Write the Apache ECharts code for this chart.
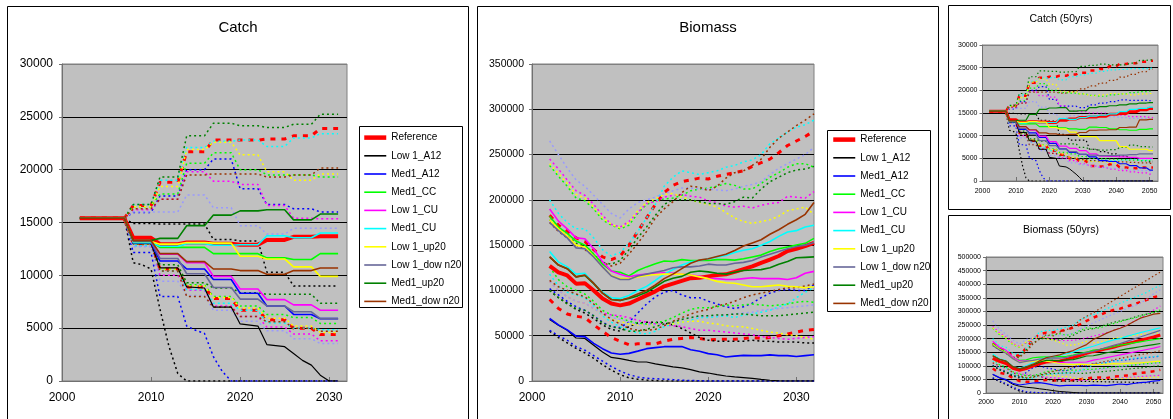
<!DOCTYPE html>
<html>
<head>
<meta charset="utf-8">
<script src="https://cdn.jsdelivr.net/npm/echarts@6/dist/echarts.min.js"></script>
<style>
  html, body { margin: 0; padding: 0; background: #fff; }
  #chart { width: 1173px; height: 419px; }
</style>
</head>
<body>
<div id="chart"></div>
<script>
// Scenario names (legend order) -------------------------------------------
const SCEN = ['Reference', 'Low 1_A12', 'Med1_A12', 'Med1_CC', 'Low 1_CU', 'Med1_CU',
              'Low 1_up20', 'Low 1_dow n20', 'Med1_up20', 'Med1_dow n20'];

// Catch: TAC blocks (value held from block start year to the year before the next block)
const catchStarts = [2002, 2008, 2011, 2014, 2017, 2020, 2023, 2026, 2029];
const catchLastYear = 2031;
const catch50Starts = [2002, 2008, 2011, 2014, 2017, 2020, 2023, 2026, 2029, 2032, 2035, 2038, 2041, 2044, 2047, 2050];
const catch50LastYear = 2051;

// Rows that do not follow the block pattern are given as [year, value] vertices.
const lowA12CatchMid = [[2002,15400],[2007,15400],[2008,13000],[2010,13000],[2011,10700],[2013,10700],[2014,8900],[2016,8800],[2017,7000],[2019,7000],[2020,5400],[2022,5200],[2023,3450],[2025,3250],[2026,2600],[2027,1950],[2028,1500],[2029,550],[2030,0],[2031,0]];
const lowA12CatchLo = [[2002,15400],[2007,15400],[2008,11200],[2009,11000],[2010,10600],[2011,6800],[2012,3300],[2013,700],[2014,0],[2031,0]];
const medA12CatchLo = [[2002,15400],[2007,15400],[2008,12150],[2010,12150],[2011,8000],[2013,8000],[2014,5200],[2015,4800],[2016,4500],[2017,2300],[2018,900],[2019,0],[2031,0]];
const lowA12Catch50Mid = [[2002,15400],[2007,15400],[2008,13000],[2010,13000],[2011,10700],[2013,10700],[2014,8900],[2016,8800],[2017,7000],[2019,7000],[2020,5200],[2022,5000],[2023,3300],[2025,3100],[2026,2700],[2027,2100],[2028,1500],[2029,800],[2030,0],[2051,0]];
const lowA12Catch50Lo = [[2002,15400],[2007,15400],[2008,11200],[2009,11000],[2010,10600],[2011,6800],[2012,3300],[2013,700],[2014,0],[2051,0]];
const medA12Catch50Lo = [[2002,15400],[2007,15400],[2008,12150],[2010,12150],[2011,8000],[2013,8000],[2014,5200],[2015,4800],[2016,4500],[2017,2300],[2018,900],[2019,0],[2051,0]];

const catchMid = [
  [15400,13550,12950,13100,13000,12900,13350,13650,13700],
  lowA12CatchMid,
  [15400,13100,11350,10600,9600,8300,7100,6300,5900],
  [15400,13200,12650,12650,12050,12050,11650,11500,12050],
  [15400,13200,12000,11200,9900,8700,7700,7200,6700],
  [15400,13100,12750,13000,12850,12900,13750,13550,14000],
  [15400,13200,12950,13100,13050,11800,11550,10800,9900],
  [15400,13200,11600,10150,8850,7750,7100,6550,5900],
  [15400,13300,13500,14700,15700,16100,16200,15250,15800],
  [15400,13300,12050,11300,10600,10450,10100,10450,10700]
];
const catchHi = [
  [15400,16600,18800,21700,22800,22800,22900,23200,23900],
  [15400,14900,14850,14850,13400,13250,10300,9000,9000],
  [15400,15950,17500,20000,21000,18200,16700,16300,16000],
  [15400,16500,17700,20600,21600,20000,19500,19500,19300],
  [15400,16200,17200,19800,18900,18600,16600,15400,15350],
  [15400,16700,19000,22100,22700,22800,22200,23000,23400],
  [15400,16500,18400,21900,22600,21400,19800,19000,19600],
  [15400,16000,16000,17600,16400,14700,13900,14450,14450],
  [15400,16700,19300,23200,24400,24150,24000,24300,25250],
  [15400,16300,17200,19500,19600,19600,19300,19500,20150]
];
const catchLo = [
  [15400,13000,10600,8900,7800,6700,5800,5000,4400],
  lowA12CatchLo,
  medA12CatchLo,
  [15400,13000,10600,9100,8000,7100,6300,6000,5450],
  [15400,12800,10000,8600,7100,6100,5100,4450,3800],
  [15400,12800,10400,8650,7350,6700,5500,5000,4850],
  [15400,13000,10600,9000,7900,6900,5950,5200,4600],
  [15400,12700,9450,8100,6700,5650,4750,4000,3550],
  [15400,13100,11000,9300,8800,8350,8200,8200,7350],
  [15400,13000,10400,8000,7000,6100,5600,5000,4700]
];

const catch50Mid = [
  [15400,13500,12950,13050,13000,12900,13400,13700,14000,14100,14300,14700,14900,15300,15700,16000],
  lowA12Catch50Mid,
  [15400,13100,11400,10600,9600,8300,7100,6300,5900,5300,4500,4300,3800,3400,2900,2400],
  [15400,13200,12600,12600,12000,12000,11700,11500,11400,11900,11800,11500,11300,11200,11400,11500],
  [15400,13200,12000,11200,9900,8700,7700,7200,6700,6000,5500,5400,5300,5200,5000,5000],
  [15400,13100,12750,13000,12850,12900,13750,13600,14000,14300,14500,14800,15300,15800,16000,16300],
  [15400,13200,12950,13100,13000,11800,11500,10800,9800,9800,8900,8900,7600,7000,7000,6700],
  [15400,13200,11600,10200,8900,7800,7100,6500,5900,5700,5600,5600,5700,5800,6000,6000],
  [15400,13300,13400,14700,15800,16100,16200,15400,15500,16200,16400,16600,16800,17000,17200,17300],
  [15400,13300,12000,11300,10600,10400,10200,10300,10700,11200,11250,11300,11800,11900,13500,13600]
];
const catch50Hi = [
  [15400,16600,18800,21700,22800,23000,23200,23500,23900,24400,24700,25300,25800,26000,26300,26500],
  [15400,14900,14800,14800,13400,13200,10300,9000,9000,7000,6500,6000,5500,5000,4500,4200],
  [15400,15900,17500,20000,20800,18000,16500,16500,16200,16800,17200,17500,17900,17800,17800,17700],
  [15400,16500,17700,20500,21500,20000,19500,19400,19200,18900,18700,19000,19200,19500,19700,19800],
  [15400,16200,17200,19800,18800,18500,16600,15400,15300,15000,15000,14700,14500,14200,14200,14000],
  [15400,16700,19000,22000,22700,22800,22300,23000,23400,23800,24200,24500,24600,24800,24800,24900],
  [15400,16500,18400,21800,22500,21300,19800,19600,19200,18800,19000,19300,19200,19000,19200,19300],
  [15400,16000,16000,17500,16300,14800,13800,14400,14500,14400,14300,14200,14000,13800,13800,13600],
  [15400,16700,19300,23000,24300,24200,24000,24100,25300,25500,25800,25600,25600,26000,26600,26700],
  [15400,16300,17200,19600,19600,19600,19400,19700,20300,21000,21600,22200,22900,23500,24100,24700]
];
const catch50Lo = [
  [15400,13000,10600,8900,7800,6700,5800,5000,4400,3300,3200,3700,3000,2800,3000,3000],
  lowA12Catch50Lo,
  medA12Catch50Lo,
  [15400,13000,10600,9100,8000,7100,6300,6000,5400,5000,4900,4800,4700,4600,4500,4500],
  [15400,12800,10000,8600,7100,6100,5100,4500,3800,3300,3000,2600,2300,2000,1800,1500],
  [15400,12800,10400,8600,7300,6700,5500,5000,4800,4500,4600,4500,4600,4800,4600,4700],
  [15400,13000,10600,9000,7900,6900,6000,5200,4600,4300,4200,4000,3700,3500,3000,2500],
  [15400,12700,9500,8100,6700,5600,4800,4000,3600,3300,3000,2800,2600,2400,2300,2200],
  [15400,13100,11000,9300,8800,8300,8200,8200,7400,7000,6800,6900,7400,7900,7600,7500],
  [15400,13000,10400,8000,7000,6100,5600,5000,4700,4500,4400,4300,4200,4100,4000,3900]
];

// Biomass: annual values 2002-2032
const bioFirstYear = 2002;
const bioMid = [
  [127000,120000,116500,107500,108000,100000,91000,85500,83500,85500,90000,94500,99000,104500,107500,110500,113500,114000,115500,117000,117800,120500,123500,126500,130500,134000,138000,143500,146000,149000,152500],
  [68000,61500,56000,47500,47000,39500,32000,26000,24700,22800,21000,21000,19000,17300,15500,14400,12500,10000,8800,7000,5500,4500,3800,3000,1800,800,300,0,0,0,0],
  [69000,62000,56500,49500,49000,41500,35700,31000,29500,30500,33000,35700,36800,37900,38000,38000,34600,32800,30200,29000,26500,27500,28300,28000,28000,28800,28000,28000,27000,28000,29000],
  [182000,170000,163000,154500,150000,140000,129000,121500,120000,116000,122000,126000,129500,132500,132000,134000,133000,133000,133000,134000,134000,133500,135000,137000,139000,143000,146000,148000,150000,152000,157500],
  [190000,176500,168000,158000,157000,146000,131500,121500,117800,115000,117000,118000,119000,119600,119000,118000,117000,116000,113000,113000,112000,112000,113000,114000,113000,113000,113000,112000,114000,119000,121000],
  [143000,131500,126000,118000,119000,108000,98000,92000,91000,94500,100000,104500,111000,118000,123000,128000,131500,133000,135000,137000,138700,142000,144300,146000,150000,154000,159700,164500,166000,170000,172000],
  [178000,168000,160000,150000,148000,138000,126000,116500,113000,113000,115000,116500,117500,118000,118000,118000,117000,115000,113000,110000,108500,108000,106000,104000,104000,105000,106000,104500,104000,103000,104000],
  [175000,166000,158000,147000,146000,137000,126000,116000,112000,112000,116000,118000,120000,122000,125000,126000,126000,127000,129000,128000,128000,130000,131000,133000,137000,140000,143000,146000,148500,150000,153000],
  [137000,128000,124000,115000,116500,107500,97000,90000,89000,91000,94000,98000,104000,110000,113500,115500,120000,121500,120500,119000,118000,120000,122000,122500,123000,125000,129000,132000,136000,136500,137000],
  [137000,128000,124000,115000,117000,108000,97000,90000,89000,92000,96000,100000,106000,113000,118000,124000,130000,133500,135000,137500,140000,144000,149000,152500,156000,162000,167000,173000,178000,184000,197000]
];
const bioHi = [
  [183000,172000,165000,158000,154000,145000,137000,134000,138000,150000,165000,180000,195000,208000,216000,220000,222000,224000,223000,226000,228000,230000,232000,237000,241000,245000,252000,260000,265000,270000,276000],
  [100000,92000,86000,79000,75000,69000,62000,57000,55000,60000,64000,65000,65000,64000,62000,58000,53000,48000,45000,44000,44000,44000,44000,45000,44000,44000,43000,43000,43000,42000,42000],
  [102000,95000,88000,82000,78000,72000,65000,60000,59000,65000,75000,85000,93000,98000,100000,95000,92000,92000,88000,85000,82000,80000,82000,86000,92000,97000,100000,101000,100000,100000,106000],
  [238000,226000,215000,202000,199000,190000,178000,172000,168000,172000,185000,195000,199000,201000,202000,205000,210000,212000,213000,215000,218000,216000,212000,212000,218000,225000,230000,236000,240000,240000,236000],
  [245000,234000,222000,210000,205000,195000,183000,173000,170000,176000,186000,196000,198000,203000,205000,206000,204000,203000,199000,197000,193000,192000,193000,191000,194000,196000,197000,204000,203000,202000,209000],
  [200000,185000,175000,168000,168000,158000,145000,138000,142000,152000,165000,180000,195000,215000,225000,232000,230000,228000,230000,232000,236000,238000,242000,244000,250000,262000,268000,275000,280000,283000,288000],
  [240000,229000,218000,206000,202000,192000,180000,173000,169000,175000,188000,197000,201000,206000,207000,203000,200000,197000,195000,192000,186000,180000,176000,174000,176000,178000,182000,188000,190000,192000,184000],
  [265000,250000,235000,222000,215000,205000,195000,185000,180000,190000,197000,200000,203000,207000,210000,213000,213000,212000,212000,211000,210000,212000,215000,217000,220000,228000,235000,240000,245000,250000,258000],
  [178000,168000,160000,152000,150000,140000,131000,129000,133000,145000,158000,170000,183000,195000,200000,200000,200000,198000,196000,196000,195000,198000,203000,202000,212000,220000,225000,230000,233000,234000,237000],
  [175000,165000,158000,150000,145000,138000,131000,127000,130000,140000,152000,165000,180000,190000,198000,208000,215000,214000,210000,215000,224000,230000,232000,238000,245000,258000,268000,275000,282000,288000,295000]
];
const bioLo = [
  [90000,80000,74000,71500,70000,62000,55000,48000,44000,40000,41000,41000,41000,44000,46000,47000,48000,47000,45500,46000,46000,46000,47000,48000,47000,48000,50000,52000,54000,56000,57000],
  [55000,48000,42000,36000,31000,25000,18000,12000,7000,3500,2000,1000,500,0,0,0,0,0,0,0,0,0,0,0,0,0,0,0,0,0,0],
  [56000,50000,45000,38000,34000,28000,22000,16000,11000,7000,4500,3000,2500,2000,1500,800,500,300,0,0,0,0,0,0,0,0,0,0,0,0,0],
  [126000,112000,104000,100000,96000,88000,78000,73000,70000,66000,64000,63000,64000,66000,70000,75000,79000,81000,81000,82000,84000,83000,84000,85000,84000,83000,84000,85000,87000,88000,87000],
  [110000,100000,93000,88000,86000,80000,75000,73000,72000,70000,67000,65000,63000,62000,61000,60000,58000,56000,56000,55000,54000,53000,52000,51000,49000,48000,47000,46000,47000,48000,49000],
  [118000,105000,98000,95000,92000,83000,72000,65000,60000,56000,53000,52000,55000,60000,63000,65000,67000,70000,70000,71000,72000,70000,73000,74000,76000,78000,82000,85000,92000,98000,103000],
  [110000,100000,93000,88000,86000,80000,74000,68000,66000,63000,62000,62000,62000,63000,63000,65000,66000,66000,64000,63000,61000,60000,60000,58000,56000,54000,53000,51000,50000,48000,46000],
  [110000,100000,93000,88000,86000,80000,74000,70000,68000,65000,63000,62000,62000,63000,65000,68000,70000,71000,72000,72000,73000,74000,75000,76000,78000,79000,80000,81000,82000,83000,84000],
  [100000,92000,85000,80000,78000,72000,64000,60000,58000,55000,55000,57000,60000,63000,65000,68000,70000,72000,72000,73000,73000,74000,74000,73000,72000,72000,72000,73000,74000,75000,76000],
  [111000,104000,100000,96000,93000,85000,75000,68000,63000,58000,56000,56000,57000,61000,66000,70000,74000,77000,79000,83000,85000,88000,92000,95000,97000,99000,101000,103000,103000,105000,107000]
];

// Biomass (50 years): every second year 2002-2052
const bio50Step = 2;
const bio50Mid = [
  [127000,116500,108000,91000,83500,90000,99000,107500,113500,115500,117800,123500,130500,138000,146000,152000,157000,163000,168000,175000,181000,187000,194000,200000,206000,213000],
  [68000,56000,47000,32000,24700,21000,19000,15500,12500,8800,5500,3800,1800,300,0,0,0,0,0,0,0,0,0,0,0,0],
  [69000,56500,49000,35700,29500,33000,36800,38000,34600,30200,26500,28300,28000,28000,27000,29000,28000,27000,30000,33000,31000,35000,38000,40000,44000,46000],
  [182000,163000,150000,129000,120000,122000,129500,132000,133000,133000,134000,135000,139000,146000,150000,157500,160000,165000,170000,176000,180000,184000,188000,192000,196000,200000],
  [190000,168000,157000,131500,117800,117000,119000,119000,117000,113000,112000,113000,113000,113000,114000,121000,125000,130000,135000,140000,145000,150000,155000,160000,165000,171000],
  [143000,126000,119000,98000,91000,100000,111000,123000,131500,135000,138700,144300,150000,159700,166000,172000,180000,188000,195000,200000,208000,215000,222000,228000,234000,240000],
  [178000,160000,148000,126000,113000,115000,117500,118000,117000,113000,108500,106000,104000,106000,104000,104000,105000,106000,108000,107000,109000,110000,111000,113000,115000,117000],
  [175000,158000,146000,126000,112000,116000,120000,125000,126000,129000,128000,131000,137000,143000,148500,153000,160000,168000,175000,182000,190000,198000,206000,214000,222000,230000],
  [137000,124000,116500,97000,89000,94000,104000,113500,120000,120500,118000,122000,123000,129000,136000,137000,142000,148000,152000,157000,162000,166000,170000,174000,178000,182000],
  [137000,124000,117000,97000,89000,96000,106000,118000,130000,135000,140000,149000,156000,167000,178000,197000,208000,220000,230000,238000,248000,262000,275000,282000,290000,293000]
];
const bio50Hi = [
  [183000,165000,154000,137000,138000,165000,195000,216000,222000,223000,228000,232000,241000,252000,265000,277000,287000,297000,305000,310000,318000,326000,334000,343000,352000,358000],
  [100000,86000,75000,62000,55000,64000,65000,62000,53000,45000,44000,44000,44000,43000,43000,42000,42000,41000,41000,40000,40000,39000,38000,38000,37000,36000],
  [102000,88000,78000,65000,59000,75000,93000,100000,92000,88000,82000,82000,92000,100000,100000,106000,108000,112000,118000,120000,122000,125000,128000,130000,133000,135000],
  [238000,215000,199000,178000,168000,185000,199000,202000,210000,213000,218000,212000,218000,230000,240000,236000,240000,248000,255000,262000,270000,275000,282000,290000,298000,305000],
  [245000,222000,205000,183000,170000,186000,198000,205000,204000,199000,193000,193000,194000,197000,203000,209000,215000,222000,230000,240000,250000,262000,275000,290000,305000,320000],
  [200000,175000,168000,145000,142000,165000,195000,225000,230000,230000,236000,242000,250000,268000,280000,288000,298000,310000,320000,330000,340000,350000,360000,370000,385000,395000],
  [240000,218000,202000,180000,169000,188000,201000,207000,200000,195000,186000,176000,176000,182000,190000,184000,188000,195000,200000,205000,208000,212000,215000,218000,220000,222000],
  [265000,235000,215000,195000,180000,197000,203000,210000,213000,212000,210000,215000,220000,235000,245000,258000,268000,280000,290000,300000,310000,320000,330000,345000,365000,380000],
  [178000,160000,150000,131000,133000,158000,183000,200000,200000,196000,195000,203000,212000,225000,233000,237000,245000,252000,260000,265000,270000,278000,285000,290000,295000,300000],
  [175000,158000,145000,131000,130000,152000,180000,198000,215000,210000,224000,232000,245000,268000,282000,295000,310000,325000,340000,355000,370000,385000,400000,415000,430000,445000]
];
const bio50Lo = [
  [90000,74000,70000,55000,44000,41000,41000,46000,48000,45500,46000,47000,47000,50000,54000,57000,57000,55000,60000,62000,64000,70000,74000,76000,80000,85000],
  [55000,42000,31000,18000,7000,2000,500,0,0,0,0,0,0,0,0,0,0,0,0,0,0,0,0,0,0,0],
  [56000,45000,34000,22000,11000,4500,2500,1500,500,300,0,0,0,0,0,0,0,0,0,0,0,0,0,0,0,0],
  [126000,104000,96000,78000,70000,64000,64000,70000,79000,81000,84000,84000,84000,84000,87000,87000,90000,93000,96000,98000,100000,103000,106000,108000,110000,112000],
  [110000,93000,86000,75000,72000,67000,63000,61000,58000,56000,54000,52000,49000,47000,47000,49000,50000,52000,54000,55000,57000,58000,60000,62000,63000,65000],
  [118000,98000,92000,72000,60000,53000,55000,63000,67000,70000,72000,73000,76000,82000,92000,103000,108000,112000,116000,120000,124000,128000,130000,132000,134000,136000],
  [110000,93000,86000,74000,66000,62000,62000,63000,66000,64000,61000,60000,56000,53000,50000,46000,48000,50000,52000,53000,54000,55000,56000,57000,58000,58000],
  [110000,93000,86000,74000,68000,63000,62000,65000,70000,72000,73000,75000,78000,80000,82000,84000,87000,90000,93000,96000,99000,102000,105000,108000,110000,112000],
  [100000,85000,78000,64000,58000,55000,60000,65000,70000,72000,73000,74000,73000,72000,73000,76000,78000,80000,82000,85000,88000,90000,92000,95000,98000,100000],
  [111000,100000,93000,75000,63000,56000,57000,66000,74000,79000,85000,92000,97000,101000,103000,107000,112000,117000,122000,127000,132000,137000,141000,145000,150000,155000]
];

// Styling ------------------------------------------------------------------
const FONT = '"Liberation Sans", Arial, Helvetica, sans-serif';
const LINE_COLORS  = ['#ff0000', '#000000', '#0000ff', '#00ff00', '#ff00ff', '#00ffff', '#ffff00', '#666699', '#008000', '#993300'];
const BOUND_COLORS = ['#ff0000', '#000000', '#0000ff', '#00ff00', '#ff00ff', '#00ffff', '#ffff00', '#9999ff', '#008000', '#993300'];

function stepVertices(row, starts, last) {
  if (Array.isArray(row[0])) return row;
  const pts = [];
  row.forEach((v, i) => {
    const a = starts[i];
    const b = i + 1 < starts.length ? starts[i + 1] - 1 : last;
    pts.push([a, v]);
    if (b > a) pts.push([b, v]);
  });
  return pts;
}
function annualVertices(row, first, step) {
  return row.map((v, i) => [first + i * step, v]);
}

const bigStyle   = { ref: 4, line: 1.6, thin: 1.2, dot: 1.5, refDot: 3, dotDash: [2, 3], refDash: [5, 6] };
const smallStyle = { ref: 3, line: 1.2, thin: 1.0, dot: 1.2, refDot: 2.5, dotDash: [1.5, 2.5], refDash: [4, 5] };

const panels = [
  { grid: { left: 62, top: 64, width: 285, height: 317 }, xMax: 2032, yMax: 30000, yStep: 5000,
    yFont: 12, xFont: 12, yMargin: 9, xMargin: 11, style: bigStyle,
    mid: catchMid, hi: catchHi, lo: catchLo, build: r => stepVertices(r, catchStarts, catchLastYear) },
  { grid: { left: 532, top: 64, width: 282, height: 317 }, xMax: 2032, yMax: 350000, yStep: 50000,
    yFont: 10.5, xFont: 12, yMargin: 8, xMargin: 11, style: bigStyle,
    mid: bioMid, hi: bioHi, lo: bioLo, build: r => annualVertices(r, bioFirstYear, 1) },
  { grid: { left: 982.5, top: 45, width: 175.5, height: 136 }, xMax: 2052.5, yMax: 30000, yStep: 5000,
    yFont: 7, xFont: 7, yMargin: 5, xMargin: 7, style: smallStyle,
    mid: catch50Mid, hi: catch50Hi, lo: catch50Lo, build: r => stepVertices(r, catch50Starts, catch50LastYear) },
  { grid: { left: 986, top: 257, width: 177, height: 136 }, xMax: 2052.8, yMax: 500000, yStep: 50000,
    yFont: 7, xFont: 7, yMargin: 5, xMargin: 6, style: smallStyle,
    mid: bio50Mid, hi: bio50Hi, lo: bio50Lo, build: r => annualVertices(r, bioFirstYear, bio50Step) }
];

const grids = [], xAxes = [], yAxes = [], series = [];
panels.forEach((p, gi) => {
  grids.push(Object.assign({ show: true, backgroundColor: '#c0c0c0', borderColor: '#808080', borderWidth: 1,
    containLabel: false, outerBoundsMode: 'none' }, p.grid));
  xAxes.push({
    type: 'value', gridIndex: gi, min: 2000, max: p.xMax, interval: 10,
    axisLine: { show: true, onZero: false, lineStyle: { color: '#707070', width: 1 } },
    axisTick: { show: true, inside: true, length: 4, lineStyle: { color: '#707070' } },
    axisLabel: { show: true, showMaxLabel: p.xMax % 10 === 0 ? true : false, color: '#000', fontFamily: FONT,
      fontSize: p.xFont, margin: p.xMargin, formatter: v => String(v) },
    splitLine: { show: false }
  });
  const nLines = p.yMax / p.yStep + 1;
  const gridColors = [];
  for (let i = 0; i < nLines; i++) gridColors.push(i === 0 || i === nLines - 1 ? '#808080' : '#000000');
  yAxes.push({
    type: 'value', gridIndex: gi, min: 0, max: p.yMax, interval: p.yStep,
    axisLine: { show: true, lineStyle: { color: '#707070', width: 1 } },
    axisTick: { show: true, inside: false, length: 3, lineStyle: { color: '#707070' } },
    axisLabel: { show: true, color: '#000', fontFamily: FONT, fontSize: p.yFont, margin: p.yMargin,
      formatter: v => String(v) },
    splitLine: { show: true, lineStyle: { color: gridColors, width: 1 } }
  });

  const st = p.style;
  // upper and lower bounds (dotted)
  SCEN.forEach((name, s) => {
    [['upper', p.hi], ['lower', p.lo]].forEach(([tag, rows]) => {
      const ref = s === 0;
      series.push({
        type: 'line', name: name + ' ' + tag, xAxisIndex: gi, yAxisIndex: gi,
        data: p.build(rows[s]), symbol: 'none', showSymbol: false, silent: true, z: 2,
        animation: false,
        lineStyle: { color: BOUND_COLORS[s], width: ref ? st.refDot : st.dot,
          type: ref ? st.refDash : st.dotDash, cap: 'butt' }
      });
    });
  });
  // medians (solid)
  SCEN.forEach((name, s) => {
    series.push({
      type: 'line', name: name, xAxisIndex: gi, yAxisIndex: gi,
      data: p.build(p.mid[s]), symbol: 'none', showSymbol: false, silent: true, z: 3,
      animation: false,
      itemStyle: { color: LINE_COLORS[s] },
      lineStyle: { color: LINE_COLORS[s], width: s === 0 ? st.ref : (s === 1 ? st.thin : st.line), type: 'solid' }
    });
  });
});

const legendItems = SCEN.map((name, s) => ({ name: name, lineStyle: { width: s === 0 ? 4.5 : 1.6 } }));
function legendAt(left, top) {
  return {
    show: true, orient: 'vertical', left: left, top: top, padding: 0,
    itemWidth: 22, itemHeight: 14, itemGap: 7, selectedMode: false,
    itemStyle: { opacity: 0 },
    textStyle: { fontFamily: FONT, fontSize: 10, color: '#000' },
    data: legendItems
  };
}

function titleText(text, x, y, size) {
  return { type: 'text', x: x, y: y, silent: true, z: 10,
    style: { text: text, font: size + 'px ' + FONT, fill: '#000',
      textAlign: 'center', textVerticalAlign: 'middle', verticalAlign: 'middle' } };
}
function frame(x, y, w, h) {
  return { type: 'rect', silent: true, z: -1, shape: { x: x, y: y, width: w, height: h },
    style: { fill: 'none', stroke: '#000', lineWidth: 1 } };
}

const option = {
  backgroundColor: '#ffffff',
  animation: false,
  tooltip: { show: false },
  grid: grids,
  xAxis: xAxes,
  yAxis: yAxes,
  legend: [legendAt(362, 132), legendAt(831, 134)],
  graphic: [
    frame(7.5, 6.5, 461, 430),
    frame(477.5, 6.5, 461, 430),
    frame(948.5, 5.5, 222, 204),
    frame(948.5, 215.5, 222, 220),
    { type: 'rect', silent: true, z: 1, shape: { x: 359.5, y: 126.5, width: 103, height: 181 },
      style: { fill: '#fff', stroke: '#000', lineWidth: 1 } },
    { type: 'rect', silent: true, z: 1, shape: { x: 827.5, y: 130.5, width: 103, height: 181 },
      style: { fill: '#fff', stroke: '#000', lineWidth: 1 } },
    titleText('Catch', 238, 27.5, 15),
    titleText('Biomass', 708, 28, 15),
    titleText('Catch (50yrs)', 1061, 19.5, 10.5),
    titleText('Biomass (50yrs)', 1061, 230.5, 10.5)
  ],
  series: series
};

const chart = echarts.init(document.getElementById('chart'), null, { renderer: 'canvas' });
chart.setOption(option);
</script>
</body>
</html>
